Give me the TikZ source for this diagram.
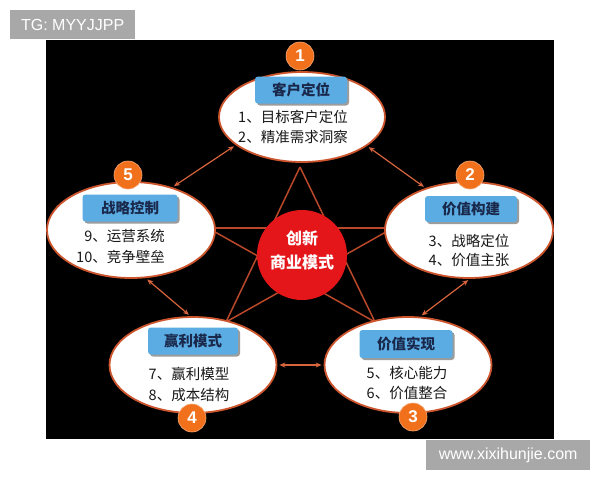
\documentclass[tikz,border=0pt]{standalone}
\usepackage{fontspec}
\setmainfont{Liberation Sans}
\newfontfamily\cjk{Noto Sans CJK SC}
\usetikzlibrary{shapes.geometric,shadows,arrows.meta}
\definecolor{ellborder}{RGB}{205,85,45}
\definecolor{arrowcol}{RGB}{215,100,60}
\definecolor{starcol}{RGB}{185,72,42}
\definecolor{boxblue}{RGB}{90,172,226}
\definecolor{titlecol}{RGB}{25,40,75}
\definecolor{numorange}{RGB}{240,112,28}
\definecolor{centerred}{RGB}{228,22,26}
\definecolor{wmgray}{RGB}{168,168,168}
\begin{document}
\begin{tikzpicture}[x=1pt,y=-1pt,
  wmbox/.style={fill=wmgray, text=white, inner sep=0pt, font=\fontsize{16}{18}\selectfont},
  ell/.style={ellipse, draw=ellborder, line width=1.8pt, fill=white, inner sep=0pt},
  titlebox/.style={fill=boxblue, rounded corners=3pt, inner sep=0pt,
     drop shadow={shadow xshift=2pt, shadow yshift=-2pt, fill=black!55, opacity=0.7},
     text=titlecol, font=\cjk\bfseries\fontsize{14.5}{16}\selectfont},
  itemtxt/.style={inner sep=0pt, text=black!90, font=\cjk\fontsize{14.5}{16}\selectfont},
  numcircle/.style={circle, fill=numorange, draw=numorange!60!white, line width=0.6pt,
     minimum size=28pt, inner sep=0pt, text=white, font=\bfseries\fontsize{17}{18}\selectfont},
  link/.style={arrowcol, line width=1.2pt, {Stealth[length=6pt,width=5pt]}-{Stealth[length=6pt,width=5pt]}, shorten <=2pt, shorten >=2pt},
  starline/.style={starcol, line width=1.5pt}
]
\useasboundingbox (0,0) rectangle (600,480);
\fill[white] (0,0) rectangle (600,480);
\fill[black] (46,40) rectangle (554,439);

% watermarks
\node[wmbox, minimum width=125pt, minimum height=29pt, anchor=north west] (tg) at (10,10) {TG: MYYJJPP};
\node[wmbox, minimum width=164pt, minimum height=30pt, anchor=north west] (wm) at (426,440) {www.xixihunjie.com};

% star
\coordinate (sT) at (300,167);
\coordinate (sL) at (208,228);
\coordinate (sR) at (393,228);
\coordinate (sBL) at (226,322);
\coordinate (sBR) at (375,322);
\draw[starline] (sT) -- (sBL);
\draw[starline] (sT) -- (sBR);
\draw[starline] (sL) -- (sR);
\draw[starline] (sL) -- (sBR);
\draw[starline] (sR) -- (sBL);

% ellipses
\node[ell, minimum width=166pt, minimum height=90pt] (e1) at (302,117) {};
\node[ell, minimum width=168pt, minimum height=96pt] (e2) at (469,230) {};
\node[ell, minimum width=168pt, minimum height=96pt] (e5) at (131,230) {};
\node[ell, minimum width=167pt, minimum height=96pt] (e4) at (193,365) {};
\node[ell, minimum width=167pt, minimum height=96pt] (e3) at (408,365) {};

% center
\node[circle, fill=centerred, minimum size=90pt, inner sep=0pt] (c0) at (302,255) {};
\node[text=white, inner sep=0pt, font=\cjk\bfseries\fontsize{16}{18}\selectfont] (c0a) at (302,238) {创新};
\node[text=white, inner sep=0pt, font=\cjk\bfseries\fontsize{16}{18}\selectfont] (c0b) at (302,262) {商业模式};

% title boxes
\node[titlebox, minimum width=92pt, minimum height=27pt] (b1) at (301,90) {客户定位};
\node[titlebox, minimum width=92pt, minimum height=26pt] (b2) at (471,209) {价值构建};
\node[titlebox, minimum width=95pt, minimum height=27pt] (b5) at (130,208) {战略控制};
\node[titlebox, minimum width=90pt, minimum height=27pt] (b4) at (193,341) {赢利模式};
\node[titlebox, minimum width=93pt, minimum height=28pt] (b3) at (406,344) {价值实现};

% items
\node[itemtxt] (t1a) at (293,117) {1、目标客户定位};
\node[itemtxt] (t1b) at (293,137) {2、精准需求洞察};
\node[itemtxt] (t2a) at (469,241) {3、战略定位};
\node[itemtxt] (t2b) at (469,260) {4、价值主张};
\node[itemtxt, anchor=east] (t5a) at (165,236) {9、运营系统};
\node[itemtxt, anchor=east] (t5b) at (165,257) {10、竞争壁垒};
\node[itemtxt] (t4a) at (189,374) {7、赢利模型};
\node[itemtxt] (t4b) at (189,395) {8、成本结构};
\node[itemtxt] (t3a) at (407,373) {5、核心能力};
\node[itemtxt] (t3b) at (407,393) {6、价值整合};

% number circles
\node[numcircle] (n1) at (300,56) {1};
\node[numcircle] (n2) at (470,175) {2};
\node[numcircle] (n5) at (128,175) {5};
\node[numcircle] (n4) at (192,418) {4};
\node[numcircle] (n3) at (413,417) {3};

% links
\draw[link] (e5.46) -- (e1.203);
\draw[link] (e1.336) -- (e2.136);
\draw[link] (e2.271) -- (e3.76);
\draw[link] (e4.east) -- (e3.west);
\draw[link] (e5.287) -- (e4.93);
\end{tikzpicture}
\end{document}
